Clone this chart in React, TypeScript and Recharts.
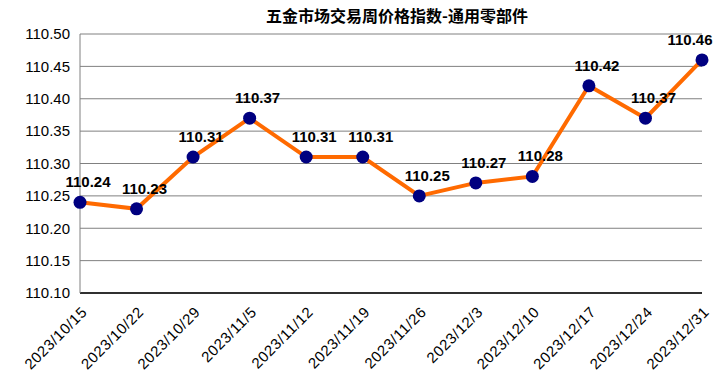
import { LineChart, Line, XAxis, YAxis, CartesianGrid, LabelList } from "recharts"

const dates = [
  "2023/10/15",
  "2023/10/22",
  "2023/10/29",
  "2023/11/5",
  "2023/11/12",
  "2023/11/19",
  "2023/11/26",
  "2023/12/3",
  "2023/12/10",
  "2023/12/17",
  "2023/12/24",
  "2023/12/31",
]

const values = [110.24, 110.23, 110.31, 110.37, 110.31, 110.31, 110.25, 110.27, 110.28, 110.42, 110.37, 110.46]

const yTicks = [110.1, 110.15, 110.2, 110.25, 110.3, 110.35, 110.4, 110.45, 110.5]

const data = dates.map((date, i) => ({ date, value: values[i] }))

const FONT = "'Liberation Sans', Arial, sans-serif"

function DateTick(props: any) {
  const { x, y, payload } = props
  return (
    <g transform={`translate(${x + 8},${y + 12})`}>
      <text
        x={0}
        y={0}
        textAnchor="end"
        transform="rotate(-45)"
        fontSize={15}
        letterSpacing={0.6}
        fontFamily={FONT}
        fill="#000"
      >
        {payload.value}
      </text>
    </g>
  )
}

function ValueLabel(props: any) {
  const { x, y, value } = props
  const cx = Math.min(x + 8, 714 - 24)
  return (
    <text
      x={cx}
      y={y - 15}
      textAnchor="middle"
      fontSize={15}
      fontWeight="bold"
      fontFamily={FONT}
      fill="#000"
    >
      {value.toFixed(2)}
    </text>
  )
}

export default function App() {
  return (
    <div style={{ position: "absolute", left: 0, top: 0, width: 714, height: 380, background: "#fff" }}>
      <style>{`body{margin:0}`}</style>
      <LineChart
        width={714}
        height={380}
        data={data}
        margin={{ top: 34, right: 12, left: 0, bottom: 0 }}
      >
        <text
          x={397}
          y={22}
          textAnchor="middle"
          fontSize={16}
          fontWeight={600}
          fontFamily="'Noto Sans CJK SC', sans-serif"
          fill="#000"
        >
          五金市场交易周价格指数-通用零部件
        </text>
        <CartesianGrid vertical={false} stroke="#808080" strokeWidth={1} />
        <XAxis
          dataKey="date"
          interval={0}
          height={87}
          tick={<DateTick />}
          tickLine={false}
          axisLine={{ stroke: "#000", strokeWidth: 1.5 }}
          padding={{ left: 0, right: 0 }}
        />
        <YAxis
          width={80}
          domain={[110.1, 110.5]}
          ticks={yTicks}
          tickFormatter={(v: number) => v.toFixed(2)}
          tickLine={false}
          tickSize={0}
          tickMargin={10}
          axisLine={{ stroke: "#808080" }}
          tick={{ fontSize: 15, fill: "#000", fontFamily: FONT }}
        />
        <Line
          type="linear"
          dataKey="value"
          stroke="#FF6A00"
          strokeWidth={4}
          dot={{ r: 6.5, fill: "#000080", stroke: "#000080", strokeWidth: 0 }}
          activeDot={false}
          isAnimationActive={false}
        >
          <LabelList dataKey="value" content={<ValueLabel />} />
        </Line>
      </LineChart>
    </div>
  )
}
